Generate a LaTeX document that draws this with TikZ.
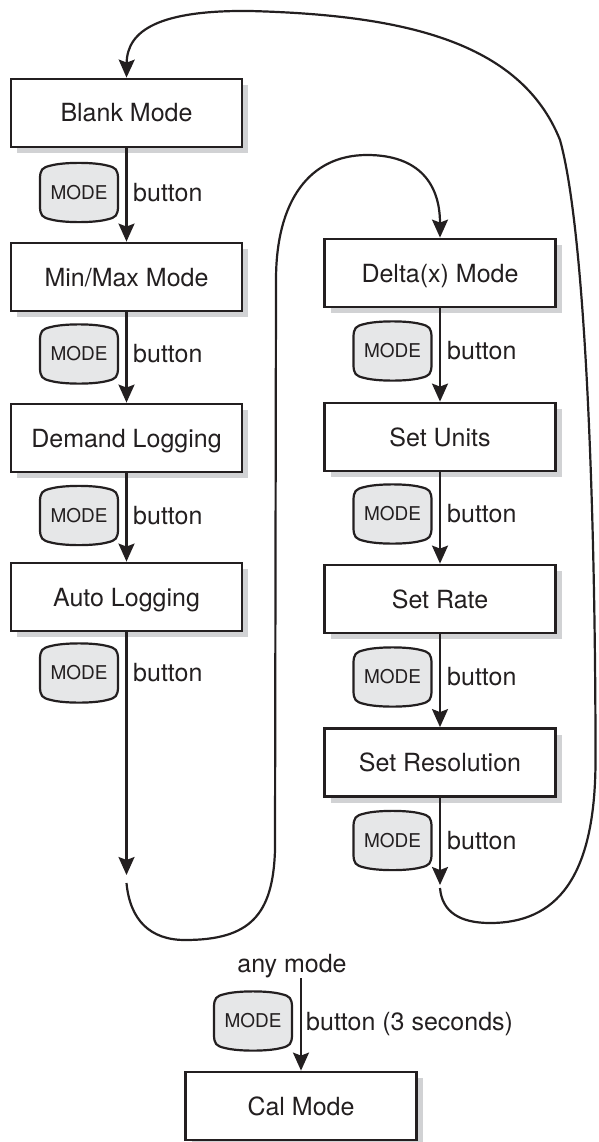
\documentclass[tikz,border=0pt]{standalone}
\usepackage{fontspec}
\setmainfont{TeX Gyre Heros}
\usetikzlibrary{arrows.meta,shadows}
\definecolor{ink}{HTML}{231F20}
\definecolor{btnfill}{HTML}{E6E7E8}
\definecolor{shade}{HTML}{D1D2D4}
\newcommand\modebutton[3]{%
  \path[btnshape, shift={(#2,#3)}] (-39,-13)
     .. controls (-39,-23) and (-37,-25) .. (-28,-27)
     .. controls (-15,-30.5) and (15,-30.5) .. (28,-27)
     .. controls (37,-25) and (39,-23) .. (39,-13) -- (39,13)
     .. controls (39,23) and (37,25) .. (28,27)
     .. controls (15,30.5) and (-15,30.5) .. (-28,27)
     .. controls (-37,25) and (-39,23) .. (-39,13) -- cycle;
  \node[btnlabel] (#1) at (#2,#3) {MODE};}
\tikzset{
  stepbox/.style={draw=ink, line width=2.8pt, fill=white, minimum width=231pt, minimum height=68pt,
    inner sep=0pt, font=\fontsize{25}{30}\selectfont, text=ink, text height=18pt, text depth=0pt,
    drop shadow={shadow xshift=6pt, shadow yshift=-6pt, fill=shade, opacity=1}},
  btnshape/.style={draw=ink, line width=2.2pt, fill=btnfill},
  btnlabel/.style={inner sep=0pt, font=\fontsize{19}{22}\selectfont, text=ink},
  lbl/.style={inner sep=0pt, anchor=base west, font=\fontsize{25}{30}\selectfont, text=ink},
  tip/.style={-{Stealth[length=18pt, width=16pt, inset=3pt]}},
  conn/.style={draw=ink, line width=2.2pt, tip},
  loop/.style={draw=ink, line width=2.2pt, tip},
}
\begin{document}
\begin{tikzpicture}[x=1pt,y=-1pt]
\useasboundingbox (0,0) rectangle (598,1142);
% left column
\node[stepbox] (blank)  at (126.5,113) {Blank Mode};
\node[stepbox] (minmax) at (126.5,277) {Min/Max Mode};
\node[stepbox] (demand) at (126.5,438) {Demand Logging};
\node[stepbox] (auto)   at (126.5,597) {Auto Logging};
% right column
\node[stepbox] (delta) at (440,273) {Delta(x) Mode};
\node[stepbox] (units) at (440,437) {Set Units};
\node[stepbox] (rate)  at (440,599) {Set Rate};
\node[stepbox] (res)   at (440,762.5) {Set Resolution};
% cal
\node[stepbox] (cal) at (301,1106) {Cal Mode};

% buttons left
\modebutton{b1}{79}{192.5}
\modebutton{b2}{79}{354}
\modebutton{b3}{79}{515.5}
\modebutton{b4}{79}{673}
\node[lbl] (t1) at (133,201) {button};
\node[lbl] (t2) at (133,362.5) {button};
\node[lbl] (t3) at (133,524) {button};
\node[lbl] (t4) at (133,681.5) {button};
% buttons right
\modebutton{b5}{392.5}{351}
\modebutton{b6}{392.5}{514}
\modebutton{b7}{392.5}{677}
\modebutton{b8}{392.5}{840.5}
\node[lbl] (t5) at (447,359.5) {button};
\node[lbl] (t6) at (447,522.5) {button};
\node[lbl] (t7) at (447,685.5) {button};
\node[lbl] (t8) at (447,849) {button};
% cal button
\modebutton{b9}{253}{1021}
\node[lbl] (t9) at (306,1030) {button (3 seconds)};
\node[lbl, anchor=base] (any) at (292,972) {any mode};

% coordinates
\coordinate (aend) at (126.5,875);
\coordinate (l1) at (126.5,883);
\coordinate (rend) at (440,885);
\coordinate (r1) at (440,888);
\coordinate (cstart) at (301,978);

% straight connectors
\draw[conn] (blank.south) -- (minmax.north);
\draw[conn] (minmax.south) -- (demand.north);
\draw[conn] (demand.south) -- (auto.north);
\draw[conn] (auto.south) -- (aend);
\draw[conn] (delta.south) -- (units.north);
\draw[conn] (units.south) -- (rate.north);
\draw[conn] (rate.south) -- (res.north);
\draw[conn] (res.south) -- (rend);
\draw[conn] (cstart) -- (cal.north);

% left loop into Delta(x)
\draw[loop] (l1)
  .. controls (130,920) and (150,940) .. (185,940)
  .. controls (250,940) and (273,915) .. (275,850)
  -- (276,280)
  .. controls (276,200) and (310,155) .. (367,155)
  .. controls (420,155) and (440,185) .. (delta.north);
% big loop back to Blank Mode
\draw[loop] (r1)
  .. controls (442,912) and (460,923) .. (490,923)
  .. controls (555,923) and (595.5,880) .. (595.5,760)
  .. controls (595.5,500) and (585,230) .. (560,140)
  .. controls (520,40) and (400,15) .. (250,11)
  .. controls (160,10) and (127,30) .. (blank.north);
\end{tikzpicture}
\end{document}
